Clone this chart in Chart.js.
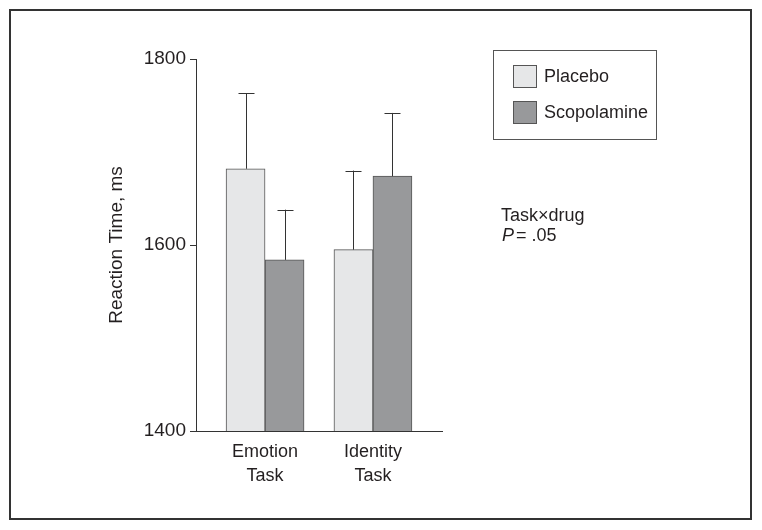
<!DOCTYPE html>
<html>
<head>
<meta charset="utf-8">
<script src="https://cdn.jsdelivr.net/npm/chart.js@4/dist/chart.umd.min.js"></script>
<style>
  html, body { margin: 0; padding: 0; background: #fff; }
  #wrap { width: 762px; height: 530px; }
</style>
</head>
<body>
<div id="wrap"><canvas id="rt" width="762" height="530"></canvas></div>
<script>
  // values
  var categories = [['Emotion', 'Task'], ['Identity', 'Task']];
  var seriesNames = ['Placebo', 'Scopolamine'];
  var placeboMeans = [1682, 1595];
  var placeboErr = [81, 85];
  var scopolamineMeans = [1584, 1674];
  var scopolamineErr = [54, 68];
  var yTicks = [1400, 1600, 1800];

  var FONT = "'Liberation Sans', Arial, sans-serif";
  var INK = '#231f20';
  var fills = ['#e6e7e8', '#98999b'];

  function points(values) {
    return values.map(function (v, i) { return { x: i, y: v }; });
  }

  var errorBars = {
    id: 'errorBars',
    afterDatasetsDraw: function (chart) {
      var ctx = chart.ctx;
      var yScale = chart.scales.y;
      ctx.save();
      ctx.strokeStyle = '#333';
      ctx.lineWidth = 1;
      chart.data.datasets.forEach(function (ds, di) {
        var meta = chart.getDatasetMeta(di);
        meta.data.forEach(function (bar, i) {
          var top = yScale.getPixelForValue(ds.data[i].y + ds.errors[i]);
          var x = Math.round(bar.x) + 0.5;
          ctx.beginPath();
          ctx.moveTo(x, bar.y);
          ctx.lineTo(x, top);
          ctx.moveTo(x - 8, Math.round(top) + 0.5);
          ctx.lineTo(x + 8, Math.round(top) + 0.5);
          ctx.stroke();
        });
      });
      ctx.restore();
    }
  };

  // frame round the figure, boxed legend and the interaction note
  var extras = {
    id: 'extras',
    afterDraw: function (chart) {
      var ctx = chart.ctx;
      ctx.save();
      ctx.strokeStyle = '#333';
      ctx.lineWidth = 2;
      ctx.strokeRect(10, 10, 741, 509);

      ctx.lineWidth = 1;
      ctx.strokeStyle = '#555';
      ctx.strokeRect(493.5, 50.5, 163, 89);
      ctx.font = '18px ' + FONT;
      ctx.textBaseline = 'middle';
      chart.data.datasets.forEach(function (ds, i) {
        var y = 65 + i * 36;
        ctx.fillStyle = ds.backgroundColor;
        ctx.fillRect(513, y, 24, 23);
        ctx.strokeStyle = '#555';
        ctx.strokeRect(513.5, y + 0.5, 23, 22);
        ctx.fillStyle = INK;
        ctx.fillText(ds.label, 544, y + 12);
      });

      ctx.textBaseline = 'alphabetic';
      ctx.fillText('Task\u00d7drug', 501, 221);
      ctx.font = 'italic 18px ' + FONT;
      ctx.fillText('P', 502, 241);
      var w = ctx.measureText('P').width;
      ctx.font = '18px ' + FONT;
      ctx.fillText('= .05', 502 + w + 2, 241);
      ctx.restore();
    }
  };

  new Chart(document.getElementById('rt').getContext('2d'), {
    type: 'bar',
    data: {
      datasets: [
        {
          label: seriesNames[0],
          data: points(placeboMeans),
          errors: placeboErr,
          backgroundColor: fills[0],
          borderColor: '#555',
          borderWidth: 1
        },
        {
          label: seriesNames[1],
          data: points(scopolamineMeans),
          errors: scopolamineErr,
          backgroundColor: fills[1],
          borderColor: '#555',
          borderWidth: 1
        }
      ]
    },
    options: {
      responsive: false,
      animation: false,
      barThickness: 39,
      layout: { padding: { top: 59, right: 320, bottom: 0, left: 0 } },
      plugins: {
        legend: { display: false },
        tooltip: { enabled: false }
      },
      scales: {
        x: {
          type: 'linear',
          offset: false,
          min: -0.64,
          max: 1.64,
          grid: { display: false, drawTicks: false },
          border: { display: true, color: '#333', width: 1 },
          afterBuildTicks: function (scale) {
            scale.ticks = categories.map(function (c, i) { return { value: i }; });
          },
          afterFit: function (scale) { scale.height = 99; },
          ticks: {
            autoSkip: false,
            maxRotation: 0,
            padding: 10,
            color: INK,
            font: { family: FONT, size: 18, lineHeight: 1.28 },
            callback: function (v) { return categories[v]; }
          }
        },
        y: {
          min: yTicks[0],
          max: yTicks[yTicks.length - 1],
          afterBuildTicks: function (scale) {
            scale.ticks = yTicks.map(function (v) { return { value: v }; });
          },
          afterFit: function (scale) { scale.width = 196; },
          grid: { drawOnChartArea: false, drawTicks: true, tickLength: 6, color: '#333' },
          border: { display: true, color: '#333', width: 1 },
          ticks: {
            padding: 4,
            color: INK,
            font: { family: FONT, size: 19 },
            callback: function (v) { return String(v); }
          },
          title: {
            display: true,
            text: 'Reaction Time, ms',
            color: INK,
            font: { family: FONT, size: 19 },
            padding: { top: 105, bottom: 0 }
          }
        }
      }
    },
    plugins: [errorBars, extras]
  });
</script>
</body>
</html>
